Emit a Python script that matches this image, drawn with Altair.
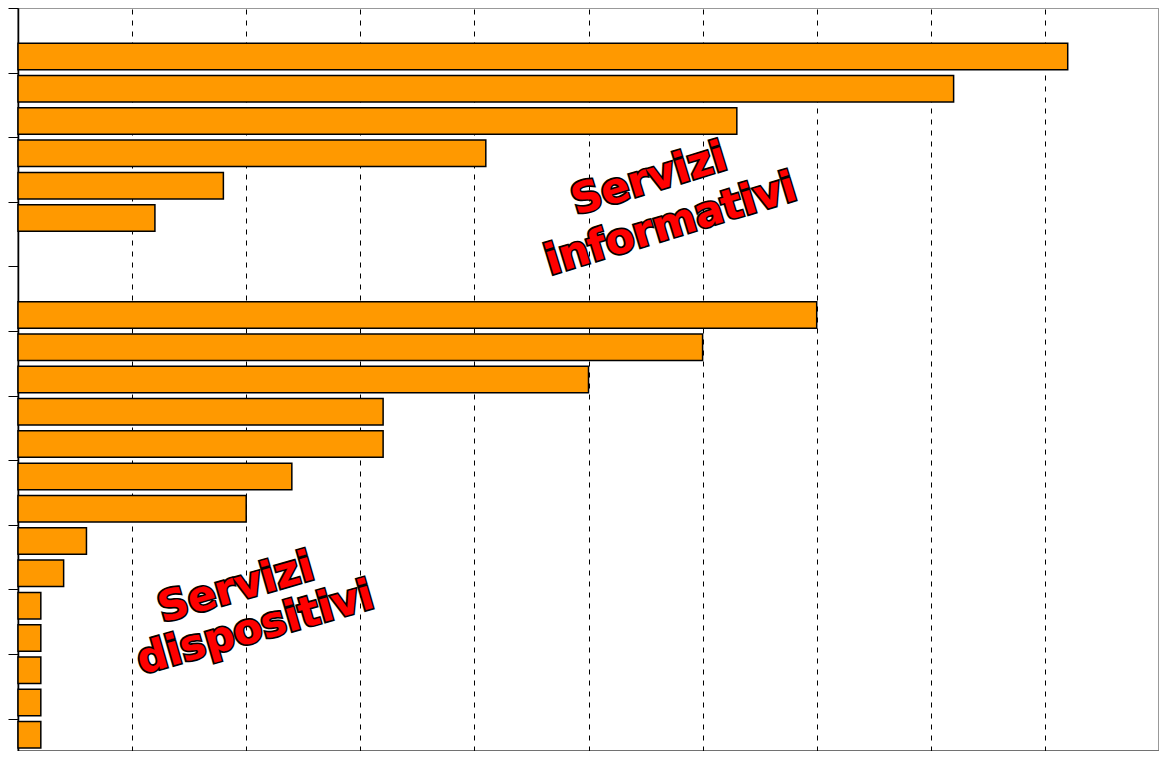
import altair as alt
import pandas as pd

# Data (x scale 0..10, rows counted from the top)
info_rows = [1, 2, 3, 4, 5, 6]
info_values = [9.2, 8.2, 6.3, 4.1, 1.8, 1.2]
disp_rows = [9, 10, 11, 12, 13, 14, 15, 16, 17, 18, 19, 20, 21, 22]
disp_values = [7.0, 6.0, 5.0, 3.2, 3.2, 2.4, 2.0, 0.6, 0.4, 0.2, 0.2, 0.2, 0.2, 0.2]
n_rows = 23

labels = ["Servizi", "informativi", "Servizi", "dispositivi"]
label_x = [5.53, 5.72, 1.91, 2.08]
label_y = [5.3, 6.7, 17.95, 19.2]
label_angle = [343, 343, 344, 344]

bars = pd.DataFrame({
    "row": info_rows + disp_rows,
    "value": info_values + disp_values,
})
ann = pd.DataFrame({"text": labels, "x": label_x, "y": label_y, "angle": label_angle})

xscale = alt.Scale(domain=[0, 10], nice=False, zero=True)
yscale = alt.Scale(domain=[0, n_rows], reverse=True, nice=False, zero=False)

bar_layer = alt.Chart(bars).transform_calculate(
    y0="datum.row + 0.09", y1="datum.row + 0.91"
).mark_rect(fill="#FF9900", stroke="black", strokeWidth=1.5).encode(
    x=alt.X("value:Q", scale=xscale,
            axis=alt.Axis(values=list(range(1, 10)), grid=True, gridColor="black",
                          gridDash=[5, 6], gridWidth=1, gridOpacity=1,
                          labels=False, ticks=False, title=None,
                          domainColor="black", domainWidth=1.5)),
    x2=alt.datum(0),
    y=alt.Y("y0:Q", scale=yscale,
            axis=alt.Axis(values=list(range(0, n_rows + 1)), grid=False, labels=False,
                          tickSize=10, tickColor="black", tickWidth=1,
                          title=None, domainColor="black", domainWidth=1.5)),
    y2="y1:Q",
)

def text_layer(fill, stroke, sw):
    return alt.Chart(ann).mark_text(
        font="DejaVu Sans", fontWeight="bold", fontSize=42,
        fill=fill, stroke=stroke, strokeWidth=sw, align="center", baseline="middle",
    ).encode(
        x=alt.X("x:Q", scale=xscale),
        y=alt.Y("y:Q", scale=yscale),
        angle=alt.Angle("angle:Q", scale=None),
        text="text:N",
    )

chart = alt.layer(
    bar_layer,
    text_layer("black", "black", 3.5),
    text_layer("#FF0000", "#FF0000", 0.1),
).properties(
    width=1141, height=743,
    padding={"left": 10, "top": 0, "right": 0, "bottom": 0},
    autosize=alt.AutoSizeParams(type="none"),
).configure_view(stroke="#999999", strokeWidth=2)

chart.save("out.html", embed_options={"renderer": "svg", "actions": False})
